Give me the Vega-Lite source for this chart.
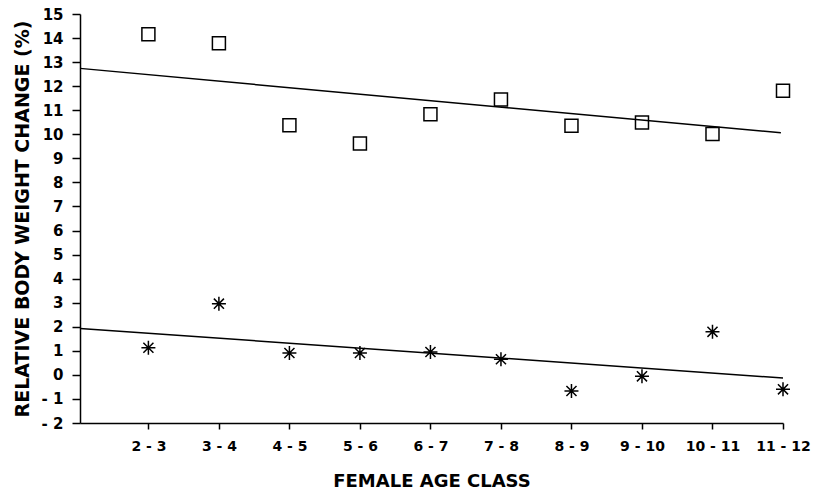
{
  "$schema": "https://vega.github.io/schema/vega-lite/v6.json",
  "width": 703,
  "height": 409,
  "autosize": "none",
  "padding": {"left": 80, "top": 14, "right": 37, "bottom": 74},
  "config": {
    "view": {"stroke": null},
    "font": "DejaVu Sans",
    "axis": {
      "grid": false,
      "domainColor": "black",
      "tickColor": "black",
      "labelColor": "black",
      "titleColor": "black",
      "domainWidth": 1.5,
      "tickWidth": 1.5,
      "labelFont": "DejaVu Sans",
      "labelFontWeight": "bold",
      "titleFont": "DejaVu Sans",
      "titleFontWeight": "bold",
      "labelOverlap": false,
      "labelFlush": false
    }
  },
  "datasets": {
    "points": [
      {"series": "A", "idx": 1, "cls": "2-3", "value": 14.16},
      {"series": "A", "idx": 2, "cls": "3-4", "value": 13.78},
      {"series": "A", "idx": 3, "cls": "4-5", "value": 10.38},
      {"series": "A", "idx": 4, "cls": "5-6", "value": 9.62},
      {"series": "A", "idx": 5, "cls": "6-7", "value": 10.83},
      {"series": "A", "idx": 6, "cls": "7-8", "value": 11.45},
      {"series": "A", "idx": 7, "cls": "8-9", "value": 10.35},
      {"series": "A", "idx": 8, "cls": "9-10", "value": 10.49},
      {"series": "A", "idx": 9, "cls": "10-11", "value": 10.01},
      {"series": "A", "idx": 10, "cls": "11-12", "value": 11.81},
      {"series": "B", "idx": 1, "cls": "2-3", "value": 1.13},
      {"series": "B", "idx": 2, "cls": "3-4", "value": 2.96},
      {"series": "B", "idx": 3, "cls": "4-5", "value": 0.91},
      {"series": "B", "idx": 4, "cls": "5-6", "value": 0.91},
      {"series": "B", "idx": 5, "cls": "6-7", "value": 0.95},
      {"series": "B", "idx": 6, "cls": "7-8", "value": 0.65},
      {"series": "B", "idx": 7, "cls": "8-9", "value": -0.67},
      {"series": "B", "idx": 8, "cls": "9-10", "value": -0.06},
      {"series": "B", "idx": 9, "cls": "10-11", "value": 1.79},
      {"series": "B", "idx": 10, "cls": "11-12", "value": -0.6}
    ],
    "fits": [
      {"series": "A", "idx": 0.03, "value": 12.74},
      {"series": "A", "idx": 9.97, "value": 10.06},
      {"series": "B", "idx": 0.03, "value": 1.93},
      {"series": "B", "idx": 10, "value": -0.13}
    ]
  },
  "encoding": {
    "x": {
      "field": "idx", "type": "quantitative",
      "scale": {"domain": [0.03, 10], "nice": false, "zero": false},
      "axis": {
        "title": "FEMALE AGE CLASS",
        "values": [1, 2, 3, 4, 5, 6, 7, 8, 9, 10],
        "labelExpr": "['','2 - 3','3 - 4','4 - 5','5 - 6','6 - 7','7 - 8','8 - 9','9 - 10','10 - 11','11 - 12'][datum.value]",
        "tickSize": 6,
        "labelPadding": 10,
        "labelFontSize": 14,
        "labelOverlap": false,
        "labelFlush": false,
        "labelBound": false,
        "titleFontSize": 18,
        "titlePadding": 19
      }
    },
    "y": {
      "field": "value", "type": "quantitative",
      "scale": {"domain": [-2, 15], "nice": false, "zero": false},
      "axis": {
        "title": "RELATIVE BODY WEIGHT CHANGE (%)",
        "values": [-2, -1, 0, 1, 2, 3, 4, 5, 6, 7, 8, 9, 10, 11, 12, 13, 14, 15],
        "labelExpr": "datum.value < 0 ? '- ' + abs(datum.value) : '' + datum.value",
        "tickSize": 8,
        "labelPadding": 9,
        "labelFontSize": 15,
        "labelOverlap": false,
        "labelFlush": false,
        "labelBound": false,
        "titleFontSize": 19,
        "titlePadding": 9
      }
    }
  },
  "layer": [
    {
      "data": {"name": "fits"},
      "mark": {"type": "line", "color": "black", "strokeWidth": 1.5},
      "encoding": {
        "detail": {"field": "series"}
      }
    },
    {
      "data": {"name": "points"},
      "transform": [{"filter": "datum.series == 'A'"}],
      "mark": {"type": "point", "shape": "square", "filled": false, "size": 169, "stroke": "black", "strokeWidth": 1.5, "opacity": 1},
      "encoding": {}
    },
    {
      "data": {"name": "points"},
      "transform": [{"filter": "datum.series == 'B'"}],
      "mark": {"type": "point", "shape": "M0,-1L0,1M-1,0L1,0M-0.72,-0.72L0.72,0.72M-0.72,0.72L0.72,-0.72", "filled": false, "size": 196, "stroke": "black", "strokeWidth": 1.5, "opacity": 1},
      "encoding": {}
    }
  ]
}
